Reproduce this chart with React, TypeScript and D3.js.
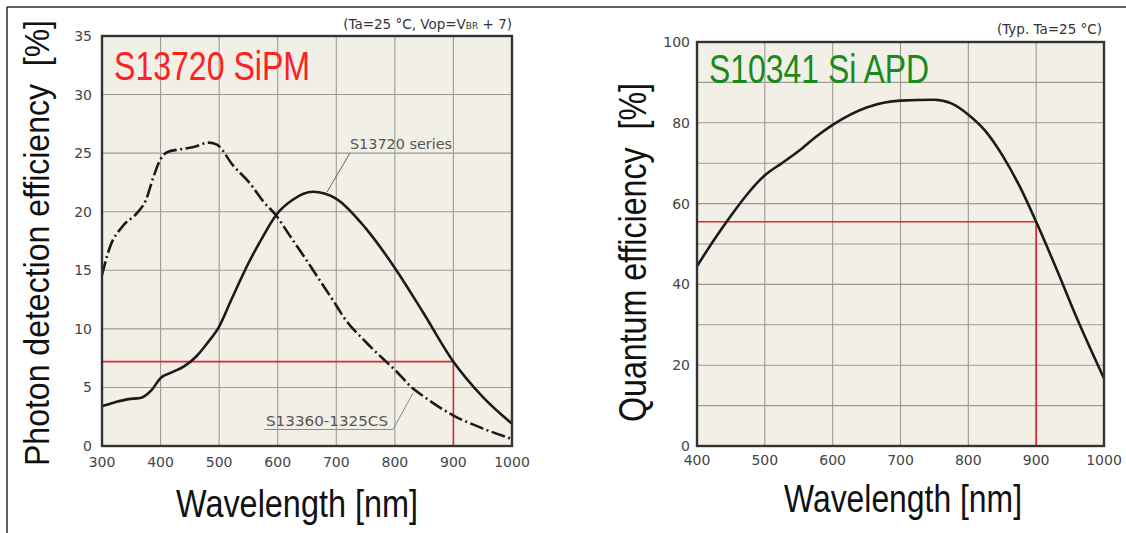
import * as d3 from "d3";

const W = 1126;
const H = 533;

// S13720 series, solid curve
const s13720Wl = [300, 320, 345, 365, 385, 400, 420, 440, 460, 480, 500, 520, 550, 575, 597, 625, 660, 700, 750, 800, 847, 900, 950, 1000];
const s13720Pde = [3.4, 3.7, 4.0, 4.1, 4.8, 5.8, 6.3, 6.8, 7.6, 8.8, 10.2, 12.4, 15.6, 17.9, 19.7, 21.0, 21.7, 21.1, 18.6, 15.2, 11.5, 7.2, 4.2, 1.9];

// S13360-1325CS, dash-dot curve
const s13360Wl = [300, 313, 336, 360, 375, 388, 400, 412, 430, 455, 483, 497, 523, 553, 575, 597, 620, 650, 675, 700, 714, 750, 785, 800, 831, 850, 900, 950, 1000];
const s13360Pde = [14.6, 16.9, 18.8, 19.9, 21.0, 23.0, 24.5, 25.1, 25.3, 25.5, 25.9, 25.7, 24.0, 22.4, 20.9, 19.7, 18.0, 15.8, 13.9, 12.0, 10.9, 8.9, 7.2, 6.5, 4.9, 4.2, 2.6, 1.5, 0.6];

// S10341 Si APD
const apdWl = [400, 425, 450, 475, 500, 525, 550, 575, 600, 650, 700, 750, 775, 800, 825, 850, 875, 900, 930, 958, 1000];
const apdQe = [44.5, 51, 57, 62.5, 67, 70, 73, 76.5, 79.5, 83.8, 85.5, 85.7, 84.8, 82, 78, 72, 64.5, 55.5, 43.8, 32.4, 16.7];

// red marker at 900 nm
const markWl = 900;
const sipmMark = 7.2;
const apdMark = 55.5;

const sipmXTicks = [300, 400, 500, 600, 700, 800, 900, 1000];
const sipmYTicks = [0, 5, 10, 15, 20, 25, 30, 35];
const apdXTicks = [400, 500, 600, 700, 800, 900, 1000];
const apdYTicks = [0, 20, 40, 60, 80, 100];
const apdYGrid = [10, 20, 30, 40, 50, 60, 70, 80, 90];

const BIG = "'Liberation Sans Narrow', 'Liberation Sans', Arial, sans-serif";
const SMALL = "'DejaVu Sans', Verdana, sans-serif";
const BG = "#f2efe7";
const GRID = "#9c9a95";
const RED = "#e5262c";
const INK = "#1b1b1b";

function App() {
  // left panel
  const lx = d3.scaleLinear().domain([300, 1000]).range([102, 512]);
  const ly = d3.scaleLinear().domain([0, 35]).range([446, 36]);
  // right panel
  const rx = d3.scaleLinear().domain([400, 1000]).range([697, 1104]);
  const ry = d3.scaleLinear().domain([0, 100]).range([446, 42]);

  const lineL = (xs: number[], ys: number[]) =>
    d3
      .line<number>()
      .x((d) => lx(d))
      .y((_, i) => ly(ys[i]))
      .curve(d3.curveMonotoneX)(xs) as string;
  const lineR = (xs: number[], ys: number[]) =>
    d3
      .line<number>()
      .x((d) => rx(d))
      .y((_, i) => ry(ys[i]))
      .curve(d3.curveMonotoneX)(xs) as string;

  return (
    <svg
      width={W}
      height={H}
      style={{ position: "absolute", left: 0, top: 0, background: "#fff" }}
    >
      {/* outer frame */}
      <line x1={7} y1={7} x2={W} y2={7} stroke="#2a2a2a" strokeWidth={1.5} />
      <line x1={7} y1={7} x2={7} y2={H} stroke="#2a2a2a" strokeWidth={1.5} />

      {/* ---------- left: S13720 SiPM ---------- */}
      <rect x={102} y={36} width={410} height={410} fill={BG} />
      {sipmXTicks.slice(1, -1).map((t) => (
        <line key={"lxg" + t} x1={lx(t)} x2={lx(t)} y1={36} y2={446} stroke={GRID} strokeWidth={1.1} />
      ))}
      {sipmYTicks.slice(1, -1).map((t) => (
        <line key={"lyg" + t} x1={102} x2={512} y1={ly(t)} y2={ly(t)} stroke={GRID} strokeWidth={1.1} />
      ))}
      <path
        d={`M${lx(300)},${ly(sipmMark)}H${lx(markWl)}V${ly(0)}`}
        fill="none"
        stroke={RED}
        strokeWidth={1.6}
      />
      <path d={lineL(s13720Wl, s13720Pde)} fill="none" stroke={INK} strokeWidth={2.6} />
      <path
        d={lineL(s13360Wl, s13360Pde)}
        fill="none"
        stroke={INK}
        strokeWidth={2.6}
        strokeDasharray="14,3.5,2,3.5"
      />
      <rect x={102} y={36} width={410} height={410} fill="none" stroke="#333" strokeWidth={2.4} />

      {sipmXTicks.map((t) => (
        <text key={"lxt" + t} x={lx(t)} y={467} textAnchor="middle" fontFamily={SMALL} fontSize={14} fill="#444">
          {t}
        </text>
      ))}
      {sipmYTicks.map((t) => (
        <text key={"lyt" + t} x={92} y={ly(t) + 5} textAnchor="end" fontFamily={SMALL} fontSize={14} fill="#444">
          {t}
        </text>
      ))}

      <text x={114} y={80} fontFamily={BIG} fontSize={41} fill="#ff2020" textLength={196} lengthAdjust="spacingAndGlyphs">
        S13720 SiPM
      </text>
      <text x={512} y={29} textAnchor="end" fontFamily={SMALL} fontSize={13.5} fill="#333">
        (Ta=25 °C, Vop=V<tspan fontSize={9}>BR</tspan> + 7)
      </text>

      {/* annotations */}
      <text x={350} y={149} fontFamily={SMALL} fontSize={14} fill="#555" textLength={102} lengthAdjust="spacingAndGlyphs">
        S13720 series
      </text>
      <line x1={350} y1={153} x2={327} y2={192} stroke="#666" strokeWidth={1} />
      <text x={266} y={426} fontFamily={SMALL} fontSize={14} fill="#555" textLength={122} lengthAdjust="spacingAndGlyphs">
        S13360-1325CS
      </text>
      <path d="M264,429.5H393L413,393" fill="none" stroke="#8a8a8a" strokeWidth={1} />

      <text
        transform="translate(49,466) rotate(-90)"
        fontFamily={BIG}
        fontSize={35}
        fill="#111"
        style={{ whiteSpace: "pre" }}
        textLength={446}
        lengthAdjust="spacingAndGlyphs"
      >
        {"Photon detection efficiency  [%]"}
      </text>
      <text x={176} y={517} fontFamily={BIG} fontSize={38} fill="#111" textLength={242} lengthAdjust="spacingAndGlyphs">
        Wavelength [nm]
      </text>

      {/* ---------- right: S10341 Si APD ---------- */}
      <rect x={697} y={42} width={407} height={404} fill={BG} />
      {apdXTicks.slice(1, -1).map((t) => (
        <line key={"rxg" + t} x1={rx(t)} x2={rx(t)} y1={42} y2={446} stroke={GRID} strokeWidth={1.1} />
      ))}
      {apdYGrid.map((t) => (
        <line key={"ryg" + t} x1={697} x2={1104} y1={ry(t)} y2={ry(t)} stroke={GRID} strokeWidth={1.1} />
      ))}
      <path
        d={`M${rx(400)},${ry(apdMark)}H${rx(markWl)}V${ry(0)}`}
        fill="none"
        stroke={RED}
        strokeWidth={1.6}
      />
      <path d={lineR(apdWl, apdQe)} fill="none" stroke={INK} strokeWidth={2.6} />
      <rect x={697} y={42} width={407} height={404} fill="none" stroke="#333" strokeWidth={2.4} />

      {apdXTicks.map((t) => (
        <text key={"rxt" + t} x={rx(t)} y={465} textAnchor="middle" fontFamily={SMALL} fontSize={14} fill="#444">
          {t}
        </text>
      ))}
      {apdYTicks.map((t) => (
        <text key={"ryt" + t} x={690} y={ry(t) + 5} textAnchor="end" fontFamily={SMALL} fontSize={14} fill="#444">
          {t}
        </text>
      ))}

      <text x={709} y={83} fontFamily={BIG} fontSize={40} fill="#1a8a1a" textLength={220} lengthAdjust="spacingAndGlyphs">
        S10341 Si APD
      </text>
      <text x={1102} y={34} textAnchor="end" fontFamily={SMALL} fontSize={13.5} fill="#333">
        (Typ. Ta=25 °C)
      </text>

      <text
        transform="translate(646,422) rotate(-90)"
        fontFamily={BIG}
        fontSize={38}
        fill="#111"
        style={{ whiteSpace: "pre" }}
        textLength={339}
        lengthAdjust="spacingAndGlyphs"
      >
        {"Quantum efficiency  [%]"}
      </text>
      <text x={784} y={512} fontFamily={BIG} fontSize={38} fill="#111" textLength={238} lengthAdjust="spacingAndGlyphs">
        Wavelength [nm]
      </text>
    </svg>
  );
}

export default App;
